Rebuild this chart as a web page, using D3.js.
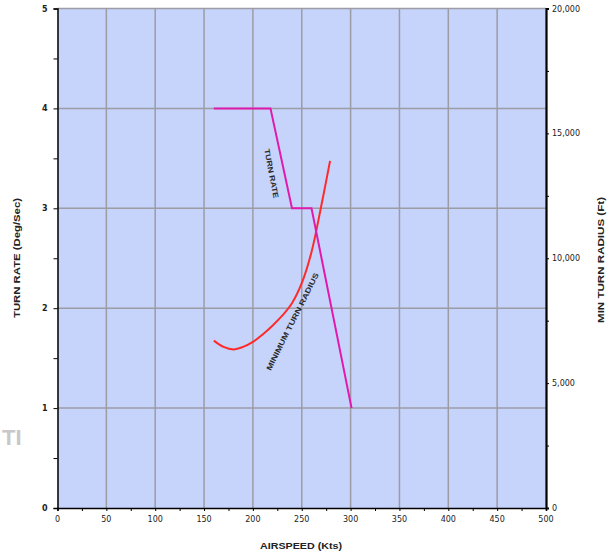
<!DOCTYPE html>
<html><head><meta charset="utf-8">
<script src="https://cdn.jsdelivr.net/npm/d3@7"></script>
<style>body{margin:0;background:#fff}svg{display:block}</style>
</head><body>
<script>
// ---- data ----
const xTicks = [0,50,100,150,200,250,300,350,400,450,500];
const leftTicks = [0,1,2,3,4,5];
const rightTicks = [0,5000,10000,15000,20000];
const turnRateSpeed = [160,218,240,260,301];
const turnRateValue = [4,4,3,3,1];
const radiusSpeed = [160,170,180,190,200,210,220,230,240,250,260,270,279];
const radiusValue = [6700,6450,6350,6450,6650,6950,7300,7700,8200,9000,10250,12100,13900];

const W = 607, H = 554;
const m = {l:57.5, t:8.5, r:546, b:508};
const svg = d3.select("body").append("svg").attr("width",W).attr("height",H);

// faint background watermark
svg.append("text").attr("x",2).attr("y",445).text("TI")
  .attr("font-family","Liberation Sans, Arial").attr("font-weight","bold")
  .attr("font-size",22).attr("fill","#c8c8c8");

const x = d3.scaleLinear().domain([0,500]).range([m.l,m.r]);
const yL = d3.scaleLinear().domain([0,5]).range([m.b,m.t]);
const yR = d3.scaleLinear().domain([0,20000]).range([m.b,m.t]);

svg.append("rect").attr("x",m.l).attr("y",m.t).attr("width",m.r-m.l).attr("height",m.b-m.t)
  .attr("fill","#c6d3fb");

// grid
const g = svg.append("g").attr("stroke","#9c9ca4").attr("stroke-width",1.5);
xTicks.slice(1,-1).forEach(v=>g.append("line").attr("x1",x(v)).attr("x2",x(v)).attr("y1",m.t).attr("y2",m.b));
leftTicks.slice(1).forEach(v=>g.append("line").attr("x1",m.l).attr("x2",m.r).attr("y1",yL(v)).attr("y2",yL(v)));

const font = "DejaVu Sans, Verdana, sans-serif";
// axes
const ax = svg.append("g").attr("transform",`translate(0,${m.b})`)
  .call(d3.axisBottom(x).tickValues(d3.range(0,501,25)).tickSize(3).tickFormat(""));
ax.select(".domain").attr("stroke","#000").attr("stroke-width",1.5);
svg.append("g").selectAll("text").data(xTicks).join("text")
  .attr("x",d=>x(d)).attr("y",m.b+14).attr("text-anchor","middle")
  .attr("font-family",font).attr("font-size",8).attr("fill","#222").text(d=>d);

const al = svg.append("g").attr("transform",`translate(${m.l},0)`)
  .call(d3.axisLeft(yL).tickValues(d3.range(0,5.01,0.5)).tickSize(4).tickFormat(""));
al.select(".domain").attr("stroke","#000").attr("stroke-width",1.5);
svg.append("g").selectAll("text").data(leftTicks).join("text")
  .attr("x",m.l-10).attr("y",d=>yL(d)+3).attr("text-anchor","end")
  .attr("font-family",font).attr("font-size",8).attr("font-weight","bold").attr("fill","#222").text(d=>d);

const ar = svg.append("g").attr("transform",`translate(${m.r},0)`)
  .call(d3.axisRight(yR).tickValues(d3.range(0,20001,2500)).tickSize(3).tickFormat(""));
ar.select(".domain").attr("stroke","#000").attr("stroke-width",2.2);
svg.append("g").selectAll("text").data(rightTicks).join("text")
  .attr("x",m.r+6).attr("y",d=>yR(d)+3).attr("text-anchor","start")
  .attr("font-family",font).attr("font-size",8).attr("fill","#222").text(d3.format(","));

// lines
svg.append("path").datum(radiusSpeed.map((s,i)=>[s,radiusValue[i]]))
  .attr("fill","none").attr("stroke","#ff2a2a").attr("stroke-width",2)
  .attr("d",d3.line().x(d=>x(d[0])).y(d=>yR(d[1])).curve(d3.curveCatmullRom));
svg.append("path").datum(turnRateSpeed.map((s,i)=>[s,turnRateValue[i]]))
  .attr("fill","none").attr("stroke","#e01aad").attr("stroke-width",2)
  .attr("d",d3.line().x(d=>x(d[0])).y(d=>yL(d[1])));

// inline labels
const lf = "Liberation Sans Narrow, Liberation Sans, Arial, sans-serif";
svg.append("text").attr("transform","translate(271.5,173.5) rotate(79)")
  .attr("text-anchor","middle").attr("dy","0.35em")
  .attr("font-family",lf).attr("font-size",7.5).attr("font-weight","bold").attr("fill","#2a2a2a")
  .attr("textLength",50).attr("lengthAdjust","spacingAndGlyphs").text("TURN RATE");
svg.append("text").attr("transform","translate(292.5,321.5) rotate(-63.4)")
  .attr("text-anchor","middle").attr("dy","0.35em")
  .attr("font-family",lf).attr("font-size",7.5).attr("font-weight","bold").attr("fill","#2a2a2a")
  .attr("textLength",108).attr("lengthAdjust","spacingAndGlyphs").text("MINIMUM TURN RADIUS");

// axis titles
const tf = "Liberation Sans, Arial, sans-serif";
svg.append("text").attr("transform","translate(20,258) rotate(-90)")
  .attr("text-anchor","middle").attr("font-family",tf).attr("font-weight","bold")
  .attr("font-size",9.5).attr("fill","#222").attr("textLength",120).attr("lengthAdjust","spacingAndGlyphs")
  .text("TURN RATE (Deg/Sec)");
svg.append("text").attr("transform","translate(604,260) rotate(-90)")
  .attr("text-anchor","middle").attr("font-family",tf).attr("font-weight","bold")
  .attr("font-size",9.5).attr("fill","#222").attr("textLength",126).attr("lengthAdjust","spacingAndGlyphs")
  .text("MIN TURN RADIUS (Ft)");
svg.append("text").attr("x",301).attr("y",549)
  .attr("text-anchor","middle").attr("font-family",tf).attr("font-weight","bold")
  .attr("font-size",9.5).attr("fill","#222").attr("textLength",82).attr("lengthAdjust","spacingAndGlyphs")
  .text("AIRSPEED (Kts)");
</script>
</body></html>
